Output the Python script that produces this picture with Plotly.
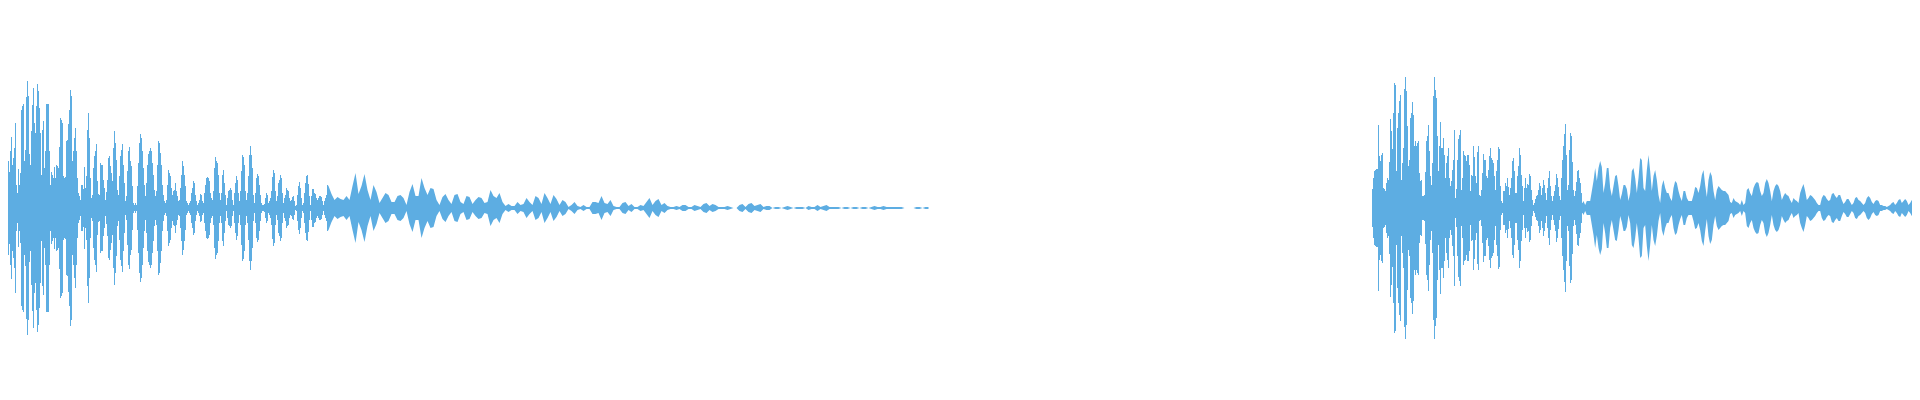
import numpy as np
import plotly.graph_objects as go

# Peak level (half-height of the waveform, in screen-level units) per time column.
# Burst 1: one value per column starting at t=0
burst1_head = [
    47, 36, 57, 71, 43, 50, 60, 85, 23, 15,
    39, 23, 35, 98, 102, 104, 47, 58, 111, 127,
    112, 54, 43, 77, 103, 120, 85, 75, 102, 124,
    117, 100, 75, 33, 78, 87, 40, 57, 104, 104,
    104, 57, 23, 36, 33, 30, 41, 30, 43, 42,
    40, 61, 90, 88, 85, 32, 30, 31, 67, 68,
    84, 98, 118, 112, 47, 57, 70, 80, 57, 30,
    15, 12, 8, 23, 23, 19, 41, 20, 32, 78,
    95, 70, 30, 10, 13, 40, 52, 57, 64, 27,
    14, 13, 45, 43, 43, 28, 20, 8, 16, 28,
    50, 52, 42, 35, 27,
    60, 77, 65, 48, 18, 13, 32, 52, 58, 64,
    43, 25, 7, 12, 37, 57, 61, 47, 42, 22,
    5, 3, 5, 3, 22, 45, 65, 74, 70, 57,
    40, 23, 12, 25, 43, 54, 57, 60, 57, 45,
    33, 18, 12, 17, 43, 67, 65, 55, 43, 23,
    13, 7, 5, 8, 23, 38, 35, 32, 20, 13,
    17, 18, 25, 17, 12, 7, 8, 20, 33, 47,
    42, 33, 22, 7, 5, 3, 5, 7, 15, 20,
    27, 25, 13, 7, 3, 5, 8, 14, 13, 7,
    5, 15, 23, 30, 31, 30, 27, 15, 10, 8,
    17, 40, 51, 47, 45, 33, 15, 8, 15, 33,
    38, 25, 13, 3, 10, 17, 18, 20, 18, 8,
    3, 15, 25, 32, 28, 15, 7, 17, 37, 53,
    51, 43, 17, 8, 15, 32, 53, 62, 53, 40,
    13, 5, 15, 30, 34, 32, 23, 13, 5, 3,
    3, 4, 10, 15, 13, 5, 7, 10, 17, 31,
    38, 35, 17, 7, 12, 25, 28, 33, 30, 15,
    5, 10, 13, 20, 18, 17, 10, 7, 8, 11,
    12, 7, 2, 3, 13, 22, 26, 20, 10, 3,
    5, 15, 25, 32, 33, 24, 12, 3, 12, 19,
    19, 15, 14, 10, 8, 10, 12, 12, 11, 7,
    3, 7, 10, 13, 23,
]
# Burst 1 tail: one value every 3 columns starting at t=320
burst1_tail = [
    22, 14, 8, 11, 9, 8, 12, 8, 22,
    35, 14, 22, 34, 18, 8, 23, 16, 5, 10,
    15, 13, 6, 6, 12, 13, 10, 3, 16, 24,
    12, 12, 30, 20, 13, 20, 19, 8, 3, 11,
    14, 8, 4, 13, 14, 6, 4, 12, 11, 4,
    8, 11, 10, 5, 6, 18, 12, 10, 15, 6,
    2, 4, 2, 2, 6, 3, 4, 10, 6, 3,
    12, 10, 4, 15, 10, 4, 13, 9, 3, 8,
    6, 1, 3, 6, 2, 1, 3, 1, 1, 6,
    6, 5, 12, 5, 4, 8, 2, 1, 1, 5,
    6, 2, 4, 1, 1, 3, 2, 6, 10, 3,
    7, 9, 3, 5, 2, 1, 1, 2, 1, 3,
    3, 1, 1, 3, 2, 1, 4, 5, 2, 4,
    3, 1, 1, 1, 2, 1, 0, 0, 3, 4,
    1, 4, 5, 2, 3, 4, 1, 2, 2, 0,
    1, 1, 0, 1, 2, 1, 0, 1, 1, 1,
    0, 2, 1, 1, 3, 1, 2, 3, 1, 1,
    1, 1, 0, 1, 1, 0, 1, 1, 0, 1,
    1, 0, 1, 2, 1, 1, 2, 1, 1, 1,
    1, 1, 1, 0, 0, 0, 0, 1, 1, 0,
    1, 1,
]
# Burst 2: one value per column starting at t=1364
burst2_head = [
    19, 30, 37, 38, 39, 39, 83, 52, 47, 53,
    55, 20, 19, 17, 25, 30, 28, 46, 89, 77,
    59, 95, 125, 123, 37, 80, 95, 107, 113, 28,
    45, 60, 119, 131, 117, 82, 42, 48, 90, 95,
    106, 93, 62, 67, 62, 65, 67, 35, 27, 28,
    12, 12, 13, 36, 67, 72, 83, 57, 32, 23,
    45, 112, 131, 118, 110, 72, 37, 62, 86, 60,
    60, 70, 53, 30, 45, 52, 60, 30, 22, 27,
    38, 48, 78, 10, 19, 48, 69, 73, 78, 18,
    30, 57, 53, 52, 47, 53, 53, 43, 17, 33,
    32,
    62, 51, 32, 25, 56, 62, 13, 12, 18, 35,
    54, 48, 48, 32, 30, 38, 52, 60, 50, 48,
    45, 32, 18, 37, 48, 61, 59, 22, 7, 5,
    17, 17, 25, 22, 30, 21, 13, 20, 30, 47,
    50, 37, 15, 15, 32, 42, 60, 53, 33, 22,
    7, 20, 30, 20, 24, 23, 34, 32, 18, 8,
    3, 5, 9, 12, 13, 18, 25, 22, 13, 20,
    28, 23, 15, 8, 20, 30, 37, 22, 12, 7,
    12, 17, 23, 34, 30, 21, 12, 8, 30, 48,
    62, 74, 84, 53, 18, 23, 58, 75, 72, 46,
    18, 12, 17, 26, 37, 38, 30, 25, 15, 5,
]
# Burst 2 tail: one value every 5/3 column starting at t=1575
burst2_tail = [
    7, 3, 7, 7, 7, 17, 27, 40, 27, 40,
    47, 41, 15, 25, 40, 40, 20, 12, 22, 32,
    33, 22, 8, 14, 23, 23, 19, 7, 15, 37,
    40, 30, 15, 30, 50, 48, 20, 17, 38, 53,
    37, 17, 32, 38, 28, 13, 5, 22, 28, 20,
    15,
    15, 10, 7, 20, 27, 25, 17, 11, 7, 17,
    17, 10, 7, 7, 7, 13, 21, 20, 15, 22,
    33, 38, 23, 11, 28, 36, 32, 17, 8, 18,
    22, 20, 18, 17, 17, 15, 13, 6, 5, 10,
    7, 6, 5, 3, 8, 3, 5, 18, 20, 15,
    12, 20, 24, 26, 25, 17, 12, 15, 25, 29,
    25, 17, 7, 17, 22, 24, 22, 17, 8, 12,
    15, 13, 12, 8, 5, 10, 8, 7, 5, 15,
    20, 24, 17, 8, 10, 13, 12, 10, 8, 5,
    3, 3, 10, 13, 12, 9, 7, 8, 14, 15,
    12, 10, 13, 13, 8, 4, 6, 9, 9, 6,
    3, 5, 10, 11, 8, 7, 5, 3, 5, 10,
    12, 10, 6, 4, 7, 8, 7, 3, 3, 2,
    2, 1, 2, 3, 5, 6, 3, 5, 8, 9,
    5, 7, 9, 7, 3, 5, 8, 5, 9, 7,
    5, 3, 6, 5, 2, 5,
]

COLOR = "#5DADE2"

fig = go.Figure()


def add_columns(start, vals):
    # one bar per screen column, spanning -v..+v
    t = start + np.arange(len(vals))
    v = np.array(vals, dtype=float)
    fig.add_trace(go.Bar(
        x=t, y=2 * v, base=-v, width=1.0,
        marker=dict(color=COLOR, line=dict(width=0)),
        hoverinfo="skip", showlegend=False,
    ))


def add_envelope(start, step, vals, join_start=None, join_val=None):
    t = start + step * np.arange(len(vals))
    v = np.array([max(x, 0.6) if x > 0 else 0.0 for x in vals])
    if join_start is not None:
        t = np.concatenate([[join_start], t])
        v = np.concatenate([[join_val], v])
    px = np.concatenate([t, t[::-1]])
    py = np.concatenate([v, -v[::-1]])
    fig.add_trace(go.Scatter(
        x=px, y=py, mode="none", fill="toself", fillcolor=COLOR,
        hoverinfo="skip", showlegend=False,
    ))


add_columns(0.5, burst1_head)
add_envelope(320.5, 3.0, burst1_tail, 319.5, burst1_head[-1])
add_columns(1364.5, burst2_head)
add_envelope(1575.5, 5.0 / 3.0, burst2_tail, 1574.5, burst2_head[-1])

fig.update_layout(
    width=1920, height=400,
    margin=dict(l=0, r=0, t=0, b=0),
    paper_bgcolor="white", plot_bgcolor="white",
    barmode="overlay", bargap=0,
    xaxis=dict(range=[0, 1920], visible=False, fixedrange=True),
    yaxis=dict(range=[-200, 200], visible=False, fixedrange=True),
    showlegend=False,
)
fig.write_html("out.html")
